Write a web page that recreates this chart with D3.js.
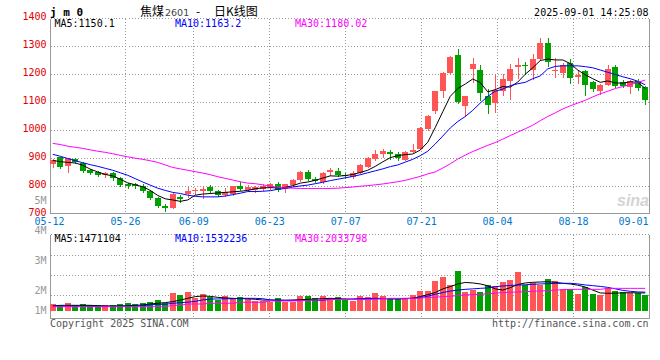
<!DOCTYPE html>
<html><head><meta charset="utf-8">
<script src="https://cdn.jsdelivr.net/npm/d3@7"></script>
<style>html,body{margin:0;padding:0;background:#fff}svg{display:block}</style>
</head><body>
<svg id="chart" width="660" height="360"></svg>
<script>
// ---------------- DATA ----------------
const dates = ["05-12","05-13","05-14","05-15","05-16","05-19","05-20","05-21","05-22","05-23",
"05-26","05-27","05-28","05-29","05-30","06-03","06-04","06-05","06-06","06-09",
"06-10","06-11","06-12","06-13","06-16","06-17","06-18","06-19","06-20","06-23",
"06-24","06-25","06-26","06-27","06-30","07-01","07-02","07-03","07-04","07-07",
"07-08","07-09","07-10","07-11","07-14","07-15","07-16","07-17","07-18","07-21",
"07-22","07-23","07-24","07-25","07-28","07-29","07-30","07-31","08-01","08-04",
"08-05","08-06","08-07","08-08","08-11","08-12","08-13","08-14","08-15","08-18",
"08-19","08-20","08-21","08-22","08-25","08-26","08-27","08-28","08-29","09-01"];

const openP = [878.7,903.7,871.6,897.8,883.5,857.3,851.4,839.5,846.6,830,
807.3,807.3,802.6,784.7,758.6,731.2,721.7,762.1,771.6,783.5,
782.4,796.6,784.7,768.1,771.6,800.2,787.1,788.3,791.9,796.6,
808.5,791.9,805,821.6,852.6,827.5,814.5,850.2,856.1,840.6,
833.5,847.9,870.4,899,915.6,924,916.8,895.4,924,934.7,
1004.9,1068,1141.7,1205.2,1268.3,1088.6,1218.3,1214.7,1121.9,1098.1,
1141,1176.6,1227.8,1234.9,1214.7,1255.2,1313.5,1212.3,1206.4,1239.7,
1192,1212.3,1173,1139.7,1163.5,1225.4,1171.9,1155.2,1177.8,1154];
const highP = [897,905,902.5,902.5,885.9,860.9,855,851.4,850.2,833.5,
812,813.3,809.7,787,760.9,737.1,776.4,770.5,797.8,794.2,
800.2,806.2,788.3,793,802.6,814.5,805,802.6,809.7,812,
816.8,809.7,826.3,853.8,859.7,834.7,851.4,866.8,866.8,847.9,
853.8,880,903.8,928.7,933.5,928.7,924,925.1,952.5,1010.9,
1053.7,1141.8,1210,1264.7,1289.7,1123,1260,1233.7,1148,1202.8,
1200.4,1237.3,1260,1245.6,1274.2,1331.3,1331.3,1257.5,1242,1254,
1213.5,1214.7,1176.6,1167,1232.5,1234.9,1179,1181.4,1182.6,1157.6];
const lowP = [868,867,852.6,883.5,851.4,843,838.3,834.7,824,802.6,
794,793,780,757,727.6,711,721.7,745.5,762.1,774,
757.4,776.4,766.9,765.7,769.3,785.9,783.5,778.8,788.3,791.9,
783.5,778.8,802.6,820.4,824,814.5,812.1,841.8,837,828.8,
830,847.9,869.2,895.4,903.8,896.6,893,893,921.6,933.5,
1000.2,1062,1119,1202.8,1099.3,1050.5,1173,1107.6,1062.4,1066,
1127.8,1113.6,1187.3,1200.4,1185,1252.8,1229,1189.7,1191,1169.5,
1170.7,1125.5,1141,1129,1161,1155.2,1155.2,1135,1143.3,1093.3];
const closeP = [895.4,869.2,900.2,885.9,853.8,846.6,840.7,846.6,828.8,803.8,
800.2,801.4,782.4,759.7,728.8,721.7,774,755,782.4,785.9,
789.5,784.7,769.3,778.8,800.2,791.9,796.6,796.6,800.2,808.5,
788.3,808.5,824,852.6,825.2,820.4,847.9,859.7,841.8,835.9,
846.6,876.4,901.4,915.6,925.1,915.6,901.4,924,931.1,1009.7,
1052.5,1139.4,1203.6,1262.3,1101.7,1121.9,1237.3,1133.8,1092,1143.3,
1182.6,1220.6,1233.7,1231.4,1256.3,1313.5,1244.4,1215.9,1232.5,1187.3,
1198,1161,1146.9,1163.5,1218.3,1160,1157.6,1176.6,1151.6,1107.6];

const ma5 = [893,889,886,884,876,862,852,843,838,826,
813,806,799,786,768,756,752,747,752,769,
773,775,777,779,781,783,786,792,795,796,
795,797,803,812,816,822,830,838,837,839,
843,850,858,872,888,903,910,914,916,930,
958,1011,1067,1122,1150,1166,1184,1171,1138,1146,
1157,1155,1173,1201,1224,1250,1255,1252,1252,1239,
1216,1199,1185,1172,1177,1170,1169,1174,1172,1150.1];
const ma10 = [915,908,900,892,885,878,872,865,858,849,
840,828,816,805,794,786,779,775,769,765,
763,763,763,766,771,776,782,782,783,785,
790,793,798,802,805,810,815,821,826,831,
836,842,849,856,863,871,877,887,897,910,
926,952,980,1009,1032,1050,1072,1098,1122,1140,
1148,1160,1167,1172,1185,1195,1220,1229,1231,1231,
1231,1228,1224,1216,1208,1200,1192,1185,1176,1163.2];
const ma30 = [954,950,944,940,936,931,926,922,917,911,
906,901,897,892,886,877,868,863,858,853,
848,842,835,829,823,817,812,810,806,801,
797,795,794,793,793,793,793,793,794,796,
798,801,803,806,809,813,817,822,829,836,
845,852,866,881,898,912,925,936,947,957,
969,982,994,1006,1019,1035,1050,1063,1077,1088,
1098,1108,1120,1131,1140,1150,1157,1164,1172,1180.02];

// volume in millions
const vol = [0.59,0.49,0.67,0.46,0.57,0.46,0.46,0.49,0.49,0.59,
0.67,0.59,0.65,0.73,0.89,0.63,1.46,1.30,1.54,1.08,
1.41,1.16,0.89,1.24,1.03,1.11,1.00,0.84,0.84,0.76,
1.06,0.76,0.76,1.24,1.24,1.03,1.24,1.08,1.14,0.98,
0.81,1.24,1.14,1.46,1.24,1.06,0.98,0.98,1.30,1.63,
1.63,2.44,2.76,2.11,3.25,1.54,1.71,1.54,2.11,2.03,
2.36,2.52,3.17,2.11,2.30,2.14,2.60,2.44,1.76,1.76,
1.38,1.95,1.38,1.30,1.87,1.63,1.54,1.44,1.49,1.30];
const vma5 = [0.41,0.46,0.46,0.46,0.46,0.46,0.43,0.41,0.41,0.41,
0.43,0.46,0.49,0.57,0.63,0.68,0.76,0.89,1.03,1.17,
1.22,1.19,1.11,1.06,1.03,1.00,1.00,0.95,0.89,0.89,
0.89,0.87,0.89,0.92,0.95,0.98,1.00,1.03,1.00,0.97,
0.96,0.98,1.01,1.03,1.02,1.01,1.00,1.02,1.03,1.17,
1.33,1.50,1.80,1.98,2.20,2.32,2.28,2.20,2.05,1.80,
1.70,1.90,2.15,2.28,2.33,2.36,2.38,2.33,2.25,2.20,
2.10,1.95,1.70,1.47,1.44,1.45,1.47,1.49,1.47,1.47];
const vma10 = [0.40,0.40,0.39,0.39,0.38,0.38,0.38,0.38,0.38,0.39,
0.40,0.41,0.43,0.50,0.54,0.55,0.62,0.68,0.72,0.78,
0.90,0.97,0.98,0.99,1.00,1.03,1.03,1.03,1.00,0.90,
0.87,0.87,0.87,0.87,0.87,0.87,0.87,0.95,0.95,0.95,
0.97,1.00,1.02,1.02,1.00,0.98,0.98,1.00,1.03,1.10,
1.20,1.36,1.50,1.62,1.70,1.76,1.80,1.84,1.88,1.98,
2.03,2.08,2.11,2.13,2.17,2.20,2.22,2.25,2.25,2.25,
2.20,2.12,2.06,2.00,1.92,1.80,1.68,1.60,1.55,1.53];
const vma30 = [0.35,0.35,0.35,0.35,0.35,0.35,0.35,0.35,0.35,0.35,
0.35,0.35,0.35,0.35,0.35,0.35,0.46,0.46,0.57,0.57,
0.57,0.63,0.63,0.63,0.63,0.71,0.71,0.71,0.71,0.81,
0.81,0.81,0.81,0.84,0.86,0.88,0.90,0.93,0.93,0.93,
0.93,0.93,0.93,0.95,1.00,1.03,1.03,1.03,1.03,1.05,
1.10,1.12,1.17,1.20,1.25,1.30,1.33,1.36,1.40,1.45,
1.50,1.52,1.55,1.57,1.60,1.63,1.65,1.70,1.73,1.76,
1.76,1.76,1.76,1.76,1.84,1.84,1.84,1.84,1.84,1.84];

const priceTicks = [1400,1300,1200,1100,1000,900,800,700];
const volTicks = [5,4,3,2,1];
const dateTicks = ["05-12","05-26","06-09","06-23","07-07","07-21","08-04","08-18","09-01"];
const legendPrice = ["MA5:1150.1","MA10:1163.2","MA30:1180.02"];
const legendVol = ["MA5:1471104","MA10:1532236","MA30:2033798"];

// ---------------- DRAW ----------------
const svg = d3.select("#chart");
const MONO = "'DejaVu Sans Mono', monospace";
const RED = "#ff5555", GREEN = "#00a000";
const GRID = "#999";
const maColors = ["#000000","#0000ff","#ff00ff"];

const left = 50.5, right = 649.5;
const pTop = 18.5, pBottom = 213.5;
const vTop = 234.5, vBottom = 318.5;

const xBand = d3.scaleBand().domain(dates).range([49, 649]);
const cx = d => xBand(d) + xBand.bandwidth() / 2;
const xGrid = d3.scalePoint().domain(dates).range([49.5, 649.5]);
const yP = d3.scaleLinear().domain([700, 1400]).range([214.5, 18.5]);
const yV = d3.scaleLinear().domain([0, 4]).range([311, 311 - 4 * 12.3]);
const yVLabel = d3.scaleLinear().domain([4, 2]).range([234, 294]);

const snap = v => Math.round(v - 0.5) + 0.5;

function hline(y, x1, x2, dotted) {
  svg.append("line").attr("x1", x1).attr("x2", x2).attr("y1", y).attr("y2", y)
    .attr("stroke", GRID).attr("stroke-width", 1)
    .attr("stroke-dasharray", dotted ? "1,2" : null)
    .attr("shape-rendering", "crispEdges");
}
function vline(x, y1, y2, dotted) {
  svg.append("line").attr("x1", x).attr("x2", x).attr("y1", y1).attr("y2", y2)
    .attr("stroke", GRID).attr("stroke-width", 1)
    .attr("stroke-dasharray", dotted ? "1,2" : null)
    .attr("shape-rendering", "crispEdges");
}

// price grid
priceTicks.filter(v => v > 700).forEach(v => hline(snap(yP(v)), left, right, true));
hline(pBottom, left, right, false);
dateTicks.slice(1, -1).forEach(d => {
  const gx = snap(xGrid(d));
  vline(gx, pTop, pBottom, true);
  vline(gx, vTop, vBottom, true);
});
vline(left, pTop, pBottom, false);
vline(right, pTop, pBottom, false);

// volume grid
hline(vTop, left, right, true);
[255.5, 275.5, 295.5].forEach(y => hline(y, left, right, true));
hline(vBottom, left, right, false);
vline(left, vTop, vBottom, false);
vline(right, vTop, vBottom, false);

// watermark
svg.append("text").attr("x", 617).attr("y", 206).text("sina")
  .attr("font-family", "'Liberation Sans', Arial, sans-serif").attr("font-style", "italic")
  .attr("font-weight", "bold").attr("font-size", 16).attr("fill", "#d4d4d4");

// candles
const cg = svg.append("g").attr("shape-rendering", "crispEdges");
dates.forEach((d, i) => {
  const o = openP[i], c = closeP[i], h = highP[i], l = lowP[i];
  const col = c >= o ? RED : GREEN;
  const bx = Math.round(cx(d) - 3);
  cg.append("line").attr("x1", bx + 3).attr("x2", bx + 3)
    .attr("y1", Math.round(yP(h))).attr("y2", Math.round(yP(l)) + 1)
    .attr("stroke", col).attr("stroke-width", 1);
  const yt = Math.round(yP(Math.max(o, c))), yb = Math.round(yP(Math.min(o, c)));
  cg.append("rect").attr("x", bx).attr("y", yt).attr("width", 6)
    .attr("height", Math.max(1, yb - yt)).attr("fill", col);
});

// price MA lines
const lineP = d3.line().x((v, i) => cx(dates[i])).y(v => yP(v));
[ma5, ma10, ma30].forEach((arr, k) => {
  svg.append("path").attr("d", lineP(arr)).attr("fill", "none")
    .attr("stroke", maColors[k]).attr("stroke-width", 1);
});

// volume bars
const vg = svg.append("g").attr("shape-rendering", "crispEdges");
dates.forEach((d, i) => {
  const col = closeP[i] >= openP[i] ? RED : GREEN;
  const bx = Math.round(cx(d) - 3);
  const yt = Math.round(yV(vol[i]));
  vg.append("rect").attr("x", bx).attr("y", yt).attr("width", 6)
    .attr("height", yV(0) - yt).attr("fill", col);
});
const lineV = d3.line().x((v, i) => cx(dates[i])).y(v => yV(v));
[vma5, vma10, vma30].forEach((arr, k) => {
  svg.append("path").attr("d", lineV(arr)).attr("fill", "none")
    .attr("stroke", maColors[k]).attr("stroke-width", 1);
});

// texts
function txt(x, y, s, opts) {
  const t = svg.append("text").attr("x", x).attr("y", y).text(s)
    .attr("font-family", opts.family || MONO).attr("font-size", opts.size || 10)
    .attr("fill", opts.fill || "#000");
  if (opts.anchor) t.attr("text-anchor", opts.anchor);
  if (opts.weight) t.attr("font-weight", opts.weight);
  return t;
}
// header
txt(50, 16, "j m 0", {size: 11, weight: "bold"});
txt(140, 16, "焦煤", {family: "'Noto Sans CJK SC', sans-serif", size: 12});
txt(165, 16, "2601", {family: "'DejaVu Sans', sans-serif", size: 9.5, fill: "#444"});
txt(196, 16, "-", {family: "'Noto Sans CJK SC', sans-serif", size: 12});
txt(214, 16, "日K线图", {family: "'Noto Sans CJK SC', sans-serif", size: 12});
txt(648.5, 16, "2025-09-01 14:25:08", {anchor: "end"});

// legends
const legX = [54.5, 175, 295];
legendPrice.forEach((s, k) => txt(legX[k], 27, s, {fill: maColors[k]}));
legendVol.forEach((s, k) => txt(legX[k], 242, s, {fill: maColors[k]}));

// price axis labels
priceTicks.forEach(v => txt(46.5, yP(v) + 1, String(v), {anchor: "end", fill: "#e00000"}));
// volume axis labels
volTicks.forEach(v => txt(46.5, Math.min(314.3, yVLabel(v)), v + "M", {anchor: "end", fill: "#999"}));
// date labels
dateTicks.forEach((d, k) => {
  const last = k === dateTicks.length - 1;
  txt(last ? 648.5 : xGrid(d), 225, d, {anchor: last ? "end" : "middle", fill: "#0077cc"});
});
// footer
txt(50, 326.5, "Copyright 2025 SINA.COM", {fill: "#555"});
txt(648.5, 326.5, "http://finance.sina.com.cn", {anchor: "end", fill: "#555"});
</script>
</body></html>
